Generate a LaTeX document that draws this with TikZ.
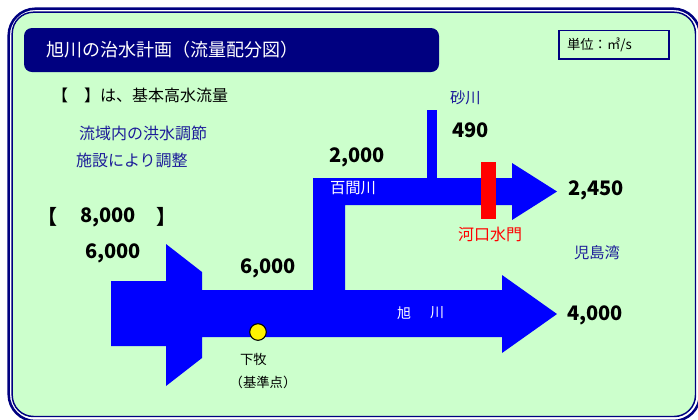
\documentclass[tikz,border=0pt]{standalone}
\usepackage{fontspec}
\setmainfont{Noto Sans CJK JP}
\definecolor{navy}{HTML}{000080}
\definecolor{navytext}{HTML}{1C1C99}
\definecolor{bggreen}{HTML}{CCFFCC}
\definecolor{riverblue}{HTML}{0000FF}
\tikzset{
  lbl/.style={inner sep=0pt, outer sep=0pt, anchor=west},
  jtxt/.style={lbl, text=black, font=\fontsize{12}{14}\selectfont},
  navylbl/.style={lbl, text=navytext, font=\fontsize{11.5}{14}\selectfont},
  numlbl/.style={lbl, text=black, font=\fontsize{15}{18}\selectfont\bfseries},
  whitelbl/.style={lbl, text=white, font=\fontsize{11.5}{14}\selectfont},
  smalllbl/.style={lbl, text=black, font=\fontsize{10}{12}\selectfont},
  river/.style={fill=riverblue, draw=none}
}
\begin{document}
\begin{tikzpicture}[x=0.75pt,y=-0.75pt]
\useasboundingbox (0,0) rectangle (698,419);
\clip (0,0) rectangle (698,419);
\fill[white] (0,0) rectangle (698,419);
% frame
\draw[navy, line width=1.9pt, rounded corners=20] (8.7,8.7) rectangle (700,421);
\draw[navy, fill=bggreen, line width=1.1pt, rounded corners=16] (12.2,12.2) rectangle (695.5,416.5);
% title bar
\fill[navy, rounded corners=6] (24,28) rectangle (439,72);
\node[lbl, text=white, font=\fontsize{13.5}{16}\selectfont] (title) at (46,50) {旭川の治水計画（流量配分図）};
% unit box
\draw[navy, line width=1.1pt] (559,30.5) rectangle (669,59);
\node[lbl, text=black, font=\fontsize{10}{12}\selectfont] (unit) at (567,45) {単位：㎥/s};
% legend
\node[jtxt] (legend) at (52,95) {【　】は、基本高水流量};
\node[lbl, text=navytext, font=\fontsize{12}{14}\selectfont] (adj1) at (79,133) {流域内の洪水調節};
\node[lbl, text=navytext, font=\fontsize{12}{14}\selectfont] (adj2) at (76,160) {施設により調整};
% rivers
\path[river] (111,281) -- (166,281) -- (166,244) -- (202,272) -- (202,290) -- (502,290)
  -- (502,275) -- (557,314) -- (502,353) -- (502,337) -- (202,337) -- (202,358)
  -- (166,386) -- (166,346) -- (111,346) -- cycle;
\path[river] (313,178) -- (512,178) -- (512,163) -- (557,191.5) -- (512,220) -- (512,205)
  -- (345,205) -- (345,292) -- (313,292) -- cycle;
\path[river] (427,110) rectangle (437,179);
% gate
\fill[red] (481,162) rectangle (496,219);
% reference point
\draw[black, fill=yellow, line width=0.8pt] (258,332) circle (8.3);
% numbers
\node[numlbl] (lbr) at (37,217) {【};
\node[numlbl] (n8000) at (80,217) {8,000};
\node[numlbl] (rbr) at (156,217) {】};
\node[numlbl] (n6000a) at (85,253) {6,000};
\node[numlbl] (n6000b) at (240,268) {6,000};
\node[numlbl] (n2000) at (329,157) {2,000};
\node[numlbl] (n490) at (452,130) {490};
\node[numlbl] (n2450) at (568,190) {2,450};
\node[numlbl] (n4000) at (567,315) {4,000};
% labels
\node[navylbl] (sunagawa) at (450,98) {砂川};
\node[navylbl] (kojima) at (574,253) {児島湾};
\node[lbl, text=red, font=\fontsize{12}{14}\selectfont] (gate) at (458,234) {河口水門};
\node[whitelbl] (hyakken) at (330,188) {百間川};
\node[whitelbl, font=\fontsize{10.5}{12}\selectfont] (asahi1) at (397,313) {旭};
\node[whitelbl, font=\fontsize{10.5}{12}\selectfont] (asahi2) at (430,313) {川};
\node[smalllbl] (shimomaki) at (240,359) {下牧};
\node[inner sep=0pt, text=black, font=\fontsize{10}{12}\selectfont] (kijun) at (263,382) {（基準点）};
\end{tikzpicture}
\end{document}
